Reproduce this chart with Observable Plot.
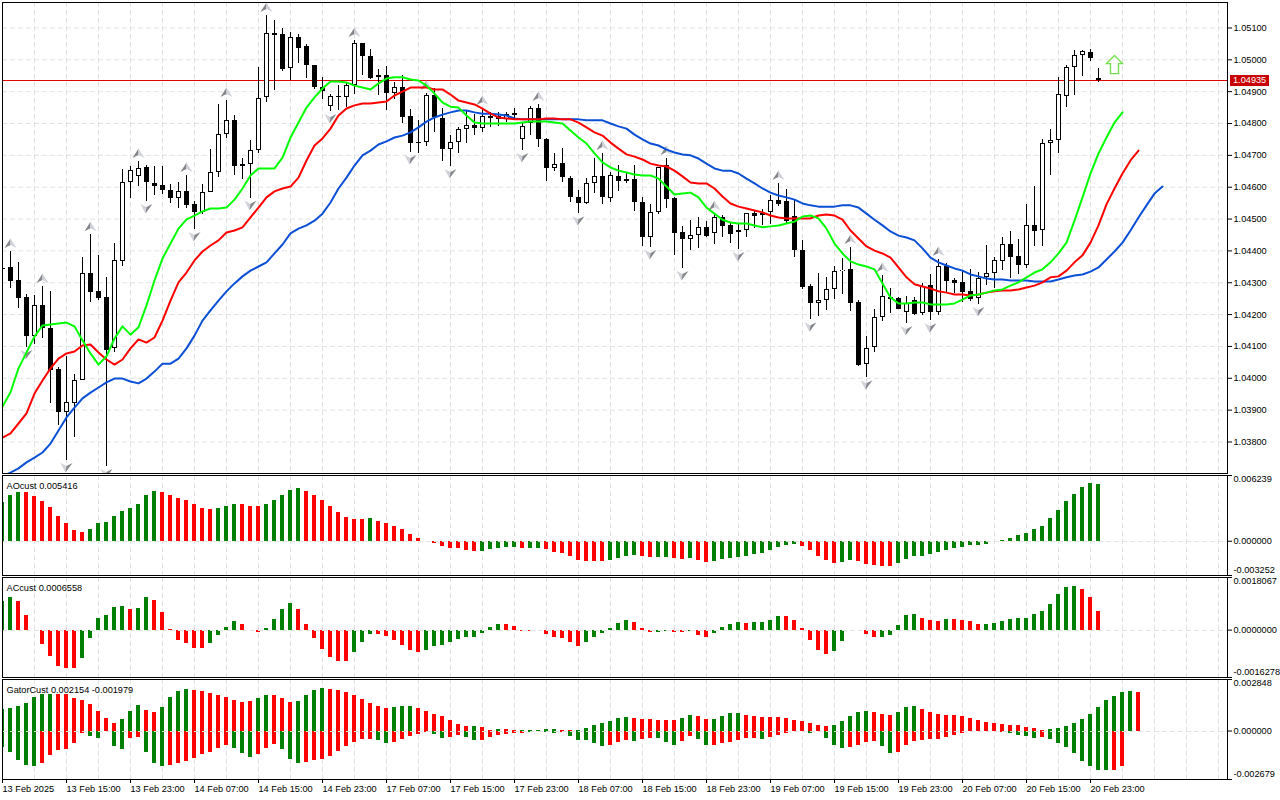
<!DOCTYPE html>
<html><head><meta charset="utf-8">
<script src="https://cdn.jsdelivr.net/npm/d3@7"></script>
<script src="https://cdn.jsdelivr.net/npm/@observablehq/plot@0.6"></script>
<style>
html,body{margin:0;padding:0;background:#fff;overflow:hidden}
#c{position:relative;width:1280px;height:800px}
#c svg{position:absolute;left:0;display:block;max-width:none}
</style></head><body><div id="c"></div>
<script>
// Prices are in points above 1.00000 (1 point = 0.00001)
const highPts=[4364,4398,4364,4263,4260,4288,4273,4034,4069,4012,
4379,4451,4386,4316,4423,4656,4665,4681,4668,4665,
4665,4609,4615,4637,4555,4609,4718,4860,4872,4825,
4690,4747,4976,5139,5124,5098,5086,5080,5048,4982,
4945,4891,4919,4926,5061,5051,5032,4970,4979,4929,
4951,4844,4809,4894,4910,4847,4762,4788,4838,4828,
4847,4835,4835,4835,4847,4803,4853,4860,4753,4706,
4721,4634,4590,4627,4690,4706,4646,4668,4643,4668,
4568,4546,4662,4690,4568,4477,4495,4505,4492,4517,
4511,4486,4486,4517,4527,4530,4574,4612,4593,4558,
4433,4294,4329,4316,4351,4376,4411,4244,4131,4216,
4323,4282,4254,4257,4254,4298,4326,4373,4360,4313,
4338,4342,4332,4417,4379,4442,4461,4436,4546,4602,
4750,4781,4945,4982,5029,5029,5032,4973];
const lowPts=[4332,4282,4219,4097,4106,4125,3921,3852,3742,3814,
3993,4238,4244,3723,4081,4351,4565,4602,4555,4574,
4577,4549,4533,4533,4467,4514,4583,4630,4753,4637,
4624,4565,4706,4866,4904,4963,4935,4988,4941,4907,
4875,4838,4841,4850,4891,4951,4938,4888,4841,4875,
4800,4709,4706,4728,4772,4681,4665,4706,4737,4762,
4772,4788,4791,4803,4816,4715,4762,4725,4618,4649,
4615,4552,4517,4546,4580,4546,4552,4586,4612,4524,
4414,4411,4514,4533,4386,4345,4401,4408,4442,4420,
4442,4423,4404,4442,4470,4480,4483,4540,4486,4379,
4279,4184,4194,4213,4247,4263,4210,4037,4002,4081,
4178,4203,4216,4172,4197,4197,4181,4197,4269,4266,
4238,4241,4232,4291,4282,4338,4313,4326,4345,4414,
4414,4637,4706,4850,4888,4948,4995,4929];
const openPts=[4345,4348,4307,4254,4131,4229,4156,4028,3893,3921,
3993,4329,4273,4254,4094,4367,4615,4634,4662,4612,
4605,4590,4565,4587,4546,4521,4583,4646,4766,4809,
4671,4671,4715,4882,5083,5080,4973,5070,5042,4982,
4913,4853,4885,4882,4919,5051,5010,4945,4951,4894,
4913,4822,4740,4740,4888,4816,4718,4740,4781,4794,
4784,4822,4822,4813,4831,4750,4800,4847,4750,4659,
4674,4627,4568,4549,4612,4634,4565,4634,4618,4624,
4552,4442,4521,4668,4565,4458,4436,4448,4474,4455,
4505,4480,4458,4464,4517,4511,4521,4558,4555,4508,
4401,4288,4235,4244,4279,4335,4342,4238,4043,4097,
4191,4254,4251,4207,4244,4203,4291,4207,4351,4307,
4301,4273,4251,4316,4329,4367,4420,4382,4354,4480,
4464,4737,4747,4885,4976,5014,5023,4940];
const closePts=[4342,4304,4251,4131,4229,4156,4024,3893,3924,3993,
4329,4269,4251,4087,4370,4615,4652,4659,4615,4602,
4590,4565,4587,4543,4521,4583,4646,4766,4809,4665,
4665,4715,4879,5083,5076,4970,5070,5036,4982,4913,
4900,4885,4882,4919,5051,5010,4941,4951,4894,4913,
4819,4737,4737,4888,4819,4718,4740,4781,4794,4784,
4822,4816,4813,4828,4825,4791,4847,4750,4659,4671,
4630,4568,4549,4612,4634,4568,4637,4618,4624,4552,
4442,4521,4662,4561,4455,4436,4448,4474,4445,4505,
4477,4451,4464,4517,4508,4517,4558,4546,4492,4401,
4285,4235,4244,4279,4335,4338,4235,4040,4094,4191,
4257,4247,4216,4235,4200,4288,4207,4351,4304,4298,
4269,4247,4313,4329,4370,4420,4379,4354,4480,4461,
4737,4747,4891,4976,5014,5026,5004,4935];
const lipsPts=[3911,3956,4031,4081,4131,4166,4169,4172,4175,4163,
4119,4078,4043,4069,4125,4163,4137,4160,4229,4307,
4376,4423,4470,4499,4511,4524,4533,4533,4536,4561,
4596,4637,4659,4659,4659,4693,4756,4803,4850,4882,
4910,4932,4932,4929,4919,4913,4907,4926,4941,4945,
4945,4938,4935,4919,4894,4866,4853,4850,4825,4803,
4800,4800,4800,4800,4800,4803,4806,4806,4806,4803,
4800,4778,4756,4737,4706,4678,4662,4652,4646,4640,
4637,4637,4627,4602,4577,4580,4583,4568,4536,4517,
4498,4489,4486,4486,4480,4474,4477,4480,4486,4492,
4508,4511,4502,4470,4423,4392,4367,4357,4351,4342,
4298,4254,4235,4235,4238,4238,4232,4232,4232,4235,
4247,4260,4263,4269,4276,4279,4291,4301,4317,4332,
4342,4364,4392,4426,4495,4568,4643,4706,4756,4803,4835];
const teethPts=[3814,3827,3858,3890,3952,3993,4031,4062,4078,4084,
4103,4106,4081,4059,4043,4059,4094,4122,4112,4128,
4181,4244,4301,4332,4370,4398,4417,4433,4458,4464,
4474,4505,4536,4568,4587,4596,4602,4630,4684,4731,
4753,4784,4825,4847,4857,4863,4863,4866,4869,4888,
4900,4913,4913,4913,4907,4907,4891,4872,4866,4860,
4847,4831,4819,4816,4813,4813,4813,4813,4816,4816,
4813,4813,4803,4788,4772,4762,4740,4721,4703,4696,
4687,4674,4668,4665,4652,4634,4615,4612,4612,4596,
4571,4549,4539,4533,4527,4521,4511,4505,4502,4502,
4502,4502,4511,4514,4511,4498,4464,4439,4414,4401,
4392,4379,4348,4317,4295,4288,4282,4273,4269,4263,
4263,4260,4263,4269,4273,4276,4276,4279,4285,4291,
4301,4317,4320,4338,4364,4386,4426,4480,4546,4596,
4643,4684,4715];
const jawPts=[3692,3704,3717,3736,3751,3767,3795,3836,3877,3908,
3937,3955,3971,3987,3999,3999,3990,3984,3999,4021,
4046,4046,4062,4094,4134,4181,4213,4244,4273,4298,
4320,4338,4351,4364,4392,4420,4455,4470,4480,4495,
4517,4552,4596,4630,4668,4700,4715,4734,4744,4756,
4762,4772,4788,4806,4819,4828,4835,4841,4841,4835,
4831,4831,4828,4825,4816,4813,4813,4813,4813,4813,
4813,4813,4813,4810,4810,4810,4800,4791,4784,4765,
4750,4737,4731,4718,4709,4703,4700,4690,4674,4659,
4652,4652,4643,4627,4612,4596,4583,4574,4568,4561,
4549,4543,4539,4539,4539,4543,4543,4536,4517,4498,
4480,4461,4448,4442,4433,4408,4379,4364,4354,4345,
4338,4326,4320,4313,4310,4310,4307,4307,4307,4304,
4304,4304,4310,4317,4323,4326,4335,4348,4373,4398,
4426,4464,4505,4543,4580,4602];
const upFractals=[1,5,11,17,23,28,33,44,53,60,67,75,83,89,97,106,110,117];
const downFractals=[3,8,13,18,24,31,41,51,56,65,72,81,85,92,101,108,113,116,122];
const currentPts=4935;
const priceTicks=[3800,3900,4000,4100,4200,4300,4400,4500,4600,4700,4800,4900,5000,5100];
const signalBar=[139], signalPts=[4985];

// Oscillators are in millionths (0.000001)
const aoVals=[3648,4320,4608,4608,4224,3744,3168,2304,1728,1056,864,1152,1728,1824,2304,2784,3072,3456,4320,4704,
4608,4320,4032,3840,3456,3072,2976,3072,3264,3456,3456,3264,3264,3456,3840,4320,4800,4992,4704,4320,
3840,3264,2688,2208,2016,2016,2112,1920,1728,1440,1152,672,288,-64,-192,-480,-672,-672,-864,-960,
-960,-768,-672,-576,-576,-672,-672,-672,-768,-1056,-1152,-1440,-1824,-1920,-1920,-1920,-1824,-1632,-1440,-1344,
-1440,-1536,-1536,-1536,-1632,-1728,-1632,-1824,-2016,-1920,-1728,-1632,-1536,-1440,-1248,-1152,-864,-576,-384,-288,
-480,-864,-1440,-1824,-2112,-2016,-1824,-1920,-2208,-2304,-2400,-2400,-2112,-1728,-1440,-1440,-1248,-1056,-864,-672,
-576,-384,-384,-288,-32,64,288,576,768,1152,1440,2112,2880,3744,4416,5088,5450,5416];
const aoRise="ggg"+"rrrrrrrr"+"ggggggggg"+"rrrrrrr"+"ggg"+"rrr"+"ggggg"+"rrrrrrrr"+"g"+"rrrrrrrrrrrrr"+"ggggg"+"r"+"gg"+"rrrrrrrr"+"gggg"+"rr"+"gg"+"rr"+"g"+"rr"+"ggggggggggg"+"rrrrr"+"gg"+"rrrrr"+"gggggggggggggggggggggggggg";
const acVals=[996,1134,996,515,-11,-481,-893,-1237,-1305,-1305,-962,-275,412,515,790,824,721,756,1134,1030,
618,34,-344,-447,-618,-618,-447,-172,103,309,206,-23,-69,69,378,721,927,721,206,-275,
-653,-927,-1065,-1065,-756,-412,-137,-137,-206,-344,-515,-687,-756,-687,-550,-515,-412,-309,-240,-240,
-103,103,206,206,137,-34,-34,-23,-137,-240,-275,-412,-550,-412,-240,-103,69,240,344,275,
69,-69,-69,-34,-69,-69,-34,-172,-240,-103,103,206,275,240,275,275,344,481,481,344,
69,-344,-687,-824,-721,-378,-23,-23,-137,-240,-240,-172,172,515,550,412,344,309,378,378,
344,309,206,206,240,309,378,412,412,550,653,893,1237,1477,1511,1408,1134,656];
const acRise="gg"+"rrrrrrrr"+"gggggg"+"r"+"gg"+"rrrrrrr"+"gggg"+"rrr"+"gggg"+"rrrrrrr"+"ggg"+"rrrrrr"+"gggggggggg"+"rrrr"+"g"+"rrrrr"+"gggggg"+"rrr"+"gg"+"rr"+"g"+"rr"+"gggg"+"r"+"gggg"+"rrrrrr"+"ggg"+"rrr"+"ggggg"+"rrr"+"g"+"rrrr"+"gggggggggggg"+"rrr";
const gatorUp=[1216,1272,1382,1548,1880,2046,2046,2046,2046,1825,1714,1493,1106,719,442,663,1106,1438,1161,1051,
1327,1880,2212,2322,2267,2212,2101,1990,1880,1714,1603,1659,1825,1990,1990,1825,1603,1659,1990,2267,
2377,2322,2267,2156,1990,1769,1548,1382,1272,1327,1382,1382,1272,1106,940,829,608,387,276,276,
221,55,111,111,55,55,55,55,111,111,55,55,55,166,332,442,553,719,774,719,
663,663,608,608,608,719,885,829,663,663,829,995,995,885,829,774,774,774,719,608,
553,442,332,276,332,553,829,1051,1106,1051,940,885,1051,1327,1382,1216,1051,940,885,885,
829,719,608,498,442,387,332,332,221,166,55,111,166,276,442,663,940,1327,1714,1935,
2156,2212,2154];
const gatorUpRise="ggggggg"+"rrrrrrrr"+"ggg"+"rr"+"gggg"+"rrrrrrrr"+"gg"+"rrr"+"gggg"+"rrrrrrrr"+"ggg"+"rrrrrrr"+"g"+"rr"+"g"+"rr"+"ggggg"+"rr"+"ggggggg"+"rrrrrr"+"gg"+"rr"+"gggg"+"rrrrrrrrrrr"+"ggggg"+"rrr"+"ggg"+"rrrrrrrrrrrrrrrr"+"ggggggggggg"+"r";
const gatorDown=[-885,-1161,-1603,-1880,-1935,-1769,-1327,-1051,-995,-663,-111,-276,-387,-37,-829,-995,-387,-332,-1161,-1769,
-1935,-1880,-1769,-1659,-1493,-1272,-1161,-940,-774,-940,-1216,-1438,-1272,-940,-719,-995,-1548,-1769,-1714,-1603,
-1548,-1382,-1106,-829,-608,-442,-442,-498,-663,-608,-442,-276,-166,-55,-166,-387,-332,-221,-332,-498,
-498,-332,-221,-166,-111,-111,-55,-37,-55,-111,-55,-276,-498,-498,-663,-829,-774,-608,-498,-553,
-442,-387,-387,-608,-774,-553,-276,-442,-774,-774,-663,-608,-498,-387,-387,-442,-332,-221,-111,-18,
-18,-111,-37,-387,-774,-940,-885,-774,-608,-553,-829,-1216,-1161,-774,-553,-498,-442,-442,-332,-221,
-111,-37,-37,-37,-37,-55,-111,-221,-276,-387,-332,-442,-663,-885,-1216,-1659,-1935,-2156,-2156,-2156,-1979];
const gatorDownRise="ggggg"+"rrrrrr"+"gg"+"r"+"gg"+"rr"+"ggg"+"rrrrrrrr"+"ggg"+"rrr"+"ggg"+"rrrrrrrrr"+"gg"+"rrrrr"+"gg"+"rr"+"gg"+"rrrrrr"+"gggg"+"r"+"ggggg"+"rrr"+"g"+"rr"+"ggg"+"rr"+"gg"+"rrrrrr"+"g"+"rrrrr"+"g"+"r"+"ggg"+"rrrr"+"gg"+"rrrrrrrrrrrrrr"+"gggg"+"r"+"gggggggg"+"rr";
const timeLabels=["13 Feb 2025","13 Feb 15:00","13 Feb 23:00","14 Feb 07:00","14 Feb 15:00","14 Feb 23:00","17 Feb 07:00","17 Feb 15:00","17 Feb 23:00","18 Feb 07:00","18 Feb 15:00","18 Feb 23:00","19 Feb 07:00","19 Feb 15:00","19 Feb 23:00","20 Feb 07:00","20 Feb 15:00","20 Feb 23:00"];

// ---- shared settings
const FONT={fontFamily:"'Liberation Sans'",fontSize:"9.2px",color:"#000",background:"transparent",overflow:"visible"};
const xDomain=[0,153.125], W=1280, mL=2, mR=53;
const gridIdx=d3.range(0,153,4), labelIdx=timeLabels.map((_,k)=>k*8);
const dash={stroke:"#e2e2e2",strokeOpacity:1,strokeDasharray:"5 3"};
const green="#008000", red="#ff0000";
const colorOf=c=>c==="g"?green:red;
const tri=(pts)=>({draw(ctx){ctx.moveTo(pts[0][0],pts[0][1]);for(let k=1;k<pts.length;k++)ctx.lineTo(pts[k][0],pts[k][1]);ctx.closePath();}});
const upL=tri([[0,-5],[-6,4.5],[0,1.5]]), upR=tri([[0,-5],[6,4.5],[0,1.5]]);
const dnL=tri([[-6,-4.5],[0,-1.5],[-1,5]]), dnR=tri([[6,-4.5],[0,-1.5],[-1,5]]);
const arrow=tri([[0,-9],[8,-1],[4,-1],[4,9],[-4,9],[-4,-1],[-8,-1]]);

// ---- main panel
const bars=d3.range(highPts.length);
const up=bars.filter(i=>closePts[i]>=openPts[i]);
const crisp={shapeRendering:"crispEdges",clip:"frame"};
const line=(arr,color)=>Plot.line(arr.map((v,i)=>[i,v]),{x:"0",y:"1",stroke:color,strokeWidth:2,curve:"linear",clip:"frame"});
function priceTag(index,scales){
  const y=scales.y(currentPts);
  const g=d3.create("svg:g");
  g.append("rect").attr("x",1230).attr("y",y-5).attr("width",39).attr("height",11).attr("fill","#c80000");
  g.append("text").attr("x",1233).attr("y",y+0.5).attr("dy","0.32em").attr("text-anchor","start").attr("fill","#fff").text((1+currentPts/1e5).toFixed(5));
  return g.node();
}
const main=Plot.plot({width:W,height:474,marginLeft:mL,marginRight:mR,marginTop:2,marginBottom:1,style:FONT,
  x:{domain:xDomain,axis:null},
  y:{domain:[3701,5180],axis:null},
  marks:[
    Plot.gridX(gridIdx,dash),
    Plot.gridY(priceTicks,dash),
    Plot.ruleY([currentPts],{stroke:"#e00000",strokeWidth:1,shapeRendering:"crispEdges"}),
    Plot.ruleX(bars,{x:i=>i,y1:i=>lowPts[i],y2:i=>highPts[i],stroke:"#000",strokeWidth:1,...crisp}),
    Plot.ruleX(bars,{x:i=>i,y1:i=>openPts[i],y2:i=>closePts[i],stroke:"#000",strokeWidth:5,...crisp}),
    Plot.ruleX(up,{x:i=>i,y1:i=>closePts[i],y2:i=>openPts[i],stroke:"#fff",strokeWidth:3,insetTop:1,insetBottom:1,...crisp}),
    Plot.dot(upFractals,{x:i=>i,y:i=>highPts[i],dy:-8,symbol:upL,fill:"#85878c",clip:"frame"}),
    Plot.dot(upFractals,{x:i=>i,y:i=>highPts[i],dy:-8,symbol:upR,fill:"#d0d3d9",clip:"frame"}),
    Plot.dot(downFractals,{x:i=>i,y:i=>lowPts[i],dy:7,symbol:dnL,fill:"#d0d3d9",clip:"frame"}),
    Plot.dot(downFractals,{x:i=>i,y:i=>lowPts[i],dy:7,symbol:dnR,fill:"#85878c",clip:"frame"}),
    line(jawPts,"#0a4fd6"),line(teethPts,"#ff0000"),line(lipsPts,"#00ff00"),
    Plot.dot(signalBar,{x:i=>i,y:()=>signalPts[0],symbol:arrow,fill:"#fff",stroke:"#74dd50",strokeWidth:1.4}),
    Plot.axisY(priceTicks,{anchor:"right",tickSize:4,tickPadding:2,tickFormat:d=>(1+d/1e5).toFixed(5),label:null}),
    Plot.frame({stroke:"#000"}),
    priceTag
  ]});

// ---- sub panels
function histo(rows){return Plot.ruleX(rows,{x:"i",y1:()=>0,y2:"v",stroke:d=>colorOf(d.c),strokeWidth:4,dx:-0.5,...crisp});}
const rows=(vals,rise)=>vals.map((v,i)=>({i,v,c:rise[i]}));
function panel({top,height,mb,domain,ticks,fmt,title,series,xaxis}){
  const labelDy=[4,0,-5];
  return Object.assign(Plot.plot({width:W,height,marginLeft:mL,marginRight:mR,marginTop:1,marginBottom:mb,style:FONT,
    x:{domain:xDomain,axis:null},y:{domain,axis:null},
    marks:[
      Plot.gridX(gridIdx,dash),
      ...series.map(s=>histo(s)),
      Plot.ruleY([0],{...dash,shapeRendering:"crispEdges"}),
      Plot.axisY(ticks,{anchor:"right",tickSize:4,tickFormat:()=>"",label:null}),
      ...ticks.map((t,k)=>Plot.text([t],{x:()=>xDomain[1],y:d=>d,text:d=>fmt(d),textAnchor:"start",dx:6,dy:labelDy[k],fill:"#000"})),
      Plot.text([title],{frameAnchor:"top-left",dx:4,dy:7,fill:"#000"}),
      ...(xaxis?[Plot.axisX(labelIdx,{anchor:"bottom",tickSize:4,tickPadding:2,textAnchor:"start",tickFormat:i=>timeLabels[i/8],label:null})]:[]),
      Plot.frame({stroke:"#000"})
    ]}),{__top:top});
}
const f6=d=>(d/1e6).toFixed(6), f7=d=>(d/1e6).toFixed(7);
const ao=panel({top:474,height:102,mb:1,domain:[-3252,6239],ticks:[6239,0,-3252],fmt:f6,title:"AOcust 0.005416",series:[rows(aoVals,aoRise)]});
const ac=panel({top:576,height:102,mb:1,domain:[-1627.8,1806.7],ticks:[1806.7,0,-1627.8],fmt:f7,title:"ACcust 0.0006558",series:[rows(acVals,acRise)]});
const gator=panel({top:678,height:122,mb:21,domain:[-2679,2848],ticks:[2848,0,-2679],fmt:f6,title:"GatorCust 0.002154 -0.001979",series:[rows(gatorUp,gatorUpRise),rows(gatorDown,gatorDownRise)],xaxis:true});
main.__top=0;
const host=document.getElementById("c");
[main,ao,ac,gator].forEach(s=>{s.style.top=s.__top+"px";host.appendChild(s);});
</script></body></html>
